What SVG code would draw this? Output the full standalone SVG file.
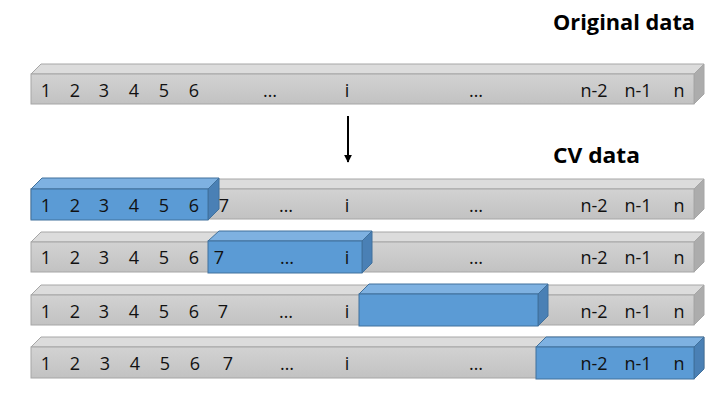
<svg xmlns="http://www.w3.org/2000/svg" width="720" height="405" viewBox="0 0 720 405">
<defs>
<linearGradient id="gf" x1="0" y1="0" x2="0" y2="1">
<stop offset="0" stop-color="#d2d2d2"/><stop offset="1" stop-color="#c2c2c2"/>
</linearGradient>
<marker id="ah" viewBox="0 0 10 10" refX="9" refY="5" markerWidth="4" markerHeight="4" orient="auto">
<path d="M0,0 L10,5 L0,10 z" fill="#000"/>
</marker>
</defs>
<style>
.gf{fill:url(#gf);stroke:#a6a6a6;stroke-width:1}
.gt{fill:#dcdcdc;stroke:#a6a6a6;stroke-width:1}
.gs{fill:#acacac;stroke:#a6a6a6;stroke-width:1}
.bf{fill:#5b9bd5;stroke:#41719c;stroke-width:1}
.bt{fill:#7eb1e1;stroke:#41719c;stroke-width:1}
.bs{fill:#4a80b5;stroke:#41719c;stroke-width:1}
text{font-family:"Open Sans",Lato,"Liberation Sans",sans-serif;fill:#111}
.n{font-size:18px;text-anchor:middle}
.h{font-size:21px;font-weight:bold;fill:#000}
</style>
<rect width="720" height="405" fill="#fff"/>

<text class="h" x="553" y="30" textLength="142" lengthAdjust="spacingAndGlyphs">Original data</text>
<text class="h" x="553" y="163" textLength="87" lengthAdjust="spacingAndGlyphs">CV data</text>

<g id="bar-original">
<polygon class="gt" points="31,74 41,64 704,64 694,74"/>
<polygon class="gs" points="694,74 704,64 704,94 694,104"/>
<rect class="gf" x="31" y="74" width="663" height="30"/>
<g class="n"><text x="46" y="97">1</text><text x="75" y="97">2</text><text x="104" y="97">3</text><text x="134" y="97">4</text><text x="164" y="97">5</text><text x="194" y="97">6</text><text x="270" y="97">…</text><text x="347" y="97">i</text><text x="476" y="97">…</text><text x="594" y="97">n-2</text><text x="638" y="97">n-1</text><text x="679" y="97">n</text></g>
</g>

<g id="connectors">
<line x1="348" y1="116" x2="348" y2="162" stroke="#000" stroke-width="2" marker-end="url(#ah)"/>
</g>

<g id="cv-row-1">
<polygon class="gt" points="31,189 41,179 704,179 694,189"/>
<polygon class="gs" points="694,189 704,179 704,209 694,219"/>
<rect class="gf" x="31" y="189" width="663" height="30"/>
<polygon class="bt" points="31,189 42,178 219,178 208,189"/>
<polygon class="bs" points="208,189 219,178 219,209 208,220"/>
<rect class="bf" x="31" y="189" width="177" height="31"/>
<g class="n"><text x="46" y="212">1</text><text x="75" y="212">2</text><text x="104" y="212">3</text><text x="134" y="212">4</text><text x="164" y="212">5</text><text x="194" y="212">6</text><text x="224" y="212">7</text><text x="286" y="212">…</text><text x="347" y="212">i</text><text x="476" y="212">…</text><text x="594" y="212">n-2</text><text x="638" y="212">n-1</text><text x="679" y="212">n</text></g>
</g>

<g id="cv-row-2">
<polygon class="gt" points="31,242 41,232 704,232 694,242"/>
<polygon class="gs" points="694,242 704,232 704,262 694,272"/>
<rect class="gf" x="31" y="242" width="663" height="30"/>
<polygon class="bt" points="208,241 219,231 372,231 362,241"/>
<polygon class="bs" points="362,241 372,231 372,263 362,273"/>
<rect class="bf" x="208" y="241" width="154" height="32"/>
<g class="n"><text x="46" y="264">1</text><text x="75" y="264">2</text><text x="104" y="264">3</text><text x="134" y="264">4</text><text x="164" y="264">5</text><text x="194" y="264">6</text><text x="219" y="264">7</text><text x="287" y="264">…</text><text x="347" y="264">i</text><text x="476" y="264">…</text><text x="594" y="264">n-2</text><text x="638" y="264">n-1</text><text x="679" y="264">n</text></g>
</g>

<g id="cv-row-3">
<polygon class="gt" points="31,295 41,285 704,285 694,295"/>
<polygon class="gs" points="694,295 704,285 704,315 694,325"/>
<rect class="gf" x="31" y="295" width="663" height="30"/>
<polygon class="bt" points="359,294 369,284 548,284 538,294"/>
<polygon class="bs" points="538,294 548,284 548,316 538,326"/>
<rect class="bf" x="359" y="294" width="179" height="32"/>
<g class="n"><text x="46" y="318">1</text><text x="75" y="318">2</text><text x="104" y="318">3</text><text x="134" y="318">4</text><text x="164" y="318">5</text><text x="194" y="318">6</text><text x="223" y="318">7</text><text x="286" y="318">…</text><text x="347" y="318">i</text><text x="594" y="318">n-2</text><text x="638" y="318">n-1</text><text x="679" y="318">n</text></g>
</g>

<g id="cv-row-4">
<polygon class="gt" points="31,347 41,337 704,337 694,347"/>
<polygon class="gs" points="694,347 704,337 704,368 694,378"/>
<rect class="gf" x="31" y="347" width="663" height="31"/>
<polygon class="bt" points="536,347 546,337 704,337 694,347"/>
<polygon class="bs" points="694,347 704,337 704,369 694,379"/>
<rect class="bf" x="536" y="347" width="158" height="32"/>
<g class="n"><text x="46" y="370">1</text><text x="75" y="370">2</text><text x="105" y="370">3</text><text x="135" y="370">4</text><text x="165" y="370">5</text><text x="195" y="370">6</text><text x="228" y="370">7</text><text x="287" y="370">…</text><text x="347" y="370">i</text><text x="476" y="370">…</text><text x="594" y="370">n-2</text><text x="638" y="370">n-1</text><text x="679" y="370">n</text></g>
</g>
</svg>
